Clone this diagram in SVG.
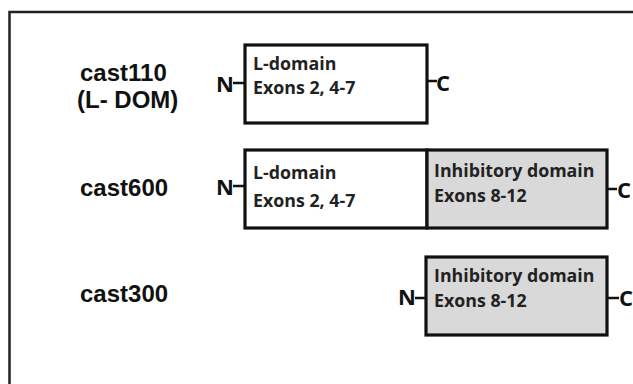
<svg xmlns="http://www.w3.org/2000/svg" width="633" height="384" viewBox="0 0 633 384">
<style>
.lbl{font-family:"Liberation Sans",Arial,sans-serif;font-weight:700;font-size:24px;fill:#111}
.term{font-family:"Open Sans","Liberation Sans",sans-serif;font-weight:700;font-size:22px;fill:#111}
.dom{font-family:"Open Sans","Liberation Sans",sans-serif;font-weight:700;font-size:17.8px;fill:#222}
.box{stroke:#111;stroke-width:3.2;fill:#fff}
.inh{stroke:#111;stroke-width:3.2;fill:#d9d9d9}
.con line{stroke:#111;stroke-width:2.5}
</style>
<rect x="0" y="0" width="633" height="384" fill="#fff"/>
<rect x="9.5" y="12" width="700" height="500" fill="none" stroke="#222" stroke-width="2.5"/>

<g id="cast110">
<text class="lbl" x="80" y="81">cast110</text>
<text class="lbl" x="77" y="108">(L- DOM)</text>
<text class="term" x="216" y="92">N</text>
<rect class="box" x="245" y="45" width="182" height="78"/>
<text class="dom" x="253" y="70">L-domain</text>
<text class="dom" x="253" y="94">Exons 2, 4-7</text>
<text class="term" x="436" y="91">C</text>
</g>

<g id="cast600">
<text class="lbl" x="80" y="196">cast600</text>
<text class="term" x="216" y="195">N</text>
<rect class="box" x="245" y="150" width="182" height="78"/>
<rect class="inh" x="427" y="150" width="180" height="78"/>
<text class="dom" x="253" y="179">L-domain</text>
<text class="dom" x="253" y="207">Exons 2, 4-7</text>
<text class="dom" x="434" y="177">Inhibitory domain</text>
<text class="dom" x="434" y="202">Exons 8-12</text>
<text class="term" x="617" y="198">C</text>
</g>

<g id="cast300">
<text class="lbl" x="80" y="302">cast300</text>
<text class="term" x="398" y="305">N</text>
<rect class="inh" x="426" y="257" width="181" height="78"/>
<text class="dom" x="434" y="282">Inhibitory domain</text>
<text class="dom" x="434" y="307">Exons 8-12</text>
<text class="term" x="619" y="306">C</text>
</g>

<g id="connectors" class="con">
<line x1="233" y1="83" x2="245" y2="83"/>
<line x1="427" y1="81" x2="437" y2="81"/>
<line x1="233" y1="186" x2="245" y2="186"/>
<line x1="607" y1="189" x2="617" y2="189"/>
<line x1="415" y1="298" x2="426" y2="298"/>
<line x1="607" y1="298" x2="619" y2="298"/>
</g>
</svg>
